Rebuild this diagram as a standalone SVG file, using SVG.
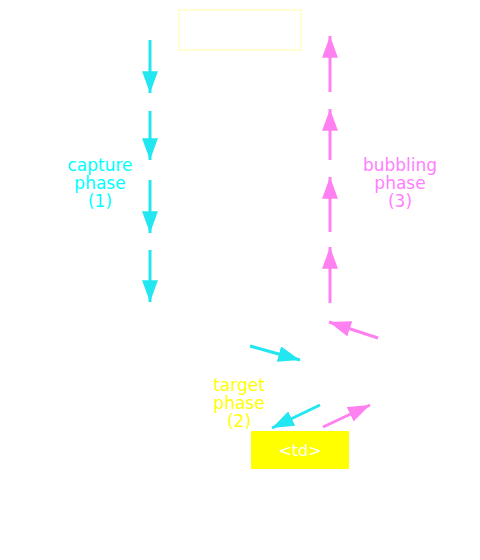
<svg xmlns="http://www.w3.org/2000/svg" width="480" height="560" viewBox="0 0 480 560">
<style>
.lbl{font-family:"DejaVu Sans",sans-serif;font-size:17px;text-anchor:middle}
.td{font-family:"DejaVu Sans",sans-serif;font-size:16px;text-anchor:middle;fill:#fff}
.cap{fill:#00ffff}
.bub{fill:#ff80ff}
.tgt{fill:#ffff00}
.c{stroke:#22e6f0;stroke-width:3;fill:none}
.m{stroke:#ff80f0;stroke-width:3;fill:none}
</style>
<defs>
<marker id="ac" viewBox="0 0 22 16" refX="22" refY="8" markerWidth="7.3" markerHeight="5.3" orient="auto" markerUnits="strokeWidth"><path d="M0,0 L22,8 L0,16 Z" fill="#22e6f0"/></marker>
<marker id="am" viewBox="0 0 22 16" refX="22" refY="8" markerWidth="7.3" markerHeight="5.3" orient="auto" markerUnits="strokeWidth"><path d="M0,0 L22,8 L0,16 Z" fill="#ff80f0"/></marker>
</defs>
<rect width="480" height="560" fill="#fff"/>
<g id="window"><rect x="179" y="10" width="122" height="40" fill="#fff" stroke="#ffffd0" stroke-width="2"/></g>
<g id="td"><rect x="251" y="431" width="98" height="38" fill="#ffff00"/><text x="300" y="456" class="td">&lt;td&gt;</text></g>
<g id="labels">
<text class="lbl cap" x="100" y="171">capture</text>
<text class="lbl cap" x="100" y="189">phase</text>
<text class="lbl cap" x="100" y="207">(1)</text>
<text class="lbl bub" x="400" y="171">bubbling</text>
<text class="lbl bub" x="400" y="189">phase</text>
<text class="lbl bub" x="400" y="207">(3)</text>
<text class="lbl tgt" x="239" y="391">target</text>
<text class="lbl tgt" x="239" y="409">phase</text>
<text class="lbl tgt" x="239" y="427">(2)</text>
</g>
<g id="connectors">
<line class="c" x1="150" y1="40" x2="150" y2="93" marker-end="url(#ac)"/>
<line class="c" x1="150" y1="111" x2="150" y2="160" marker-end="url(#ac)"/>
<line class="c" x1="150" y1="180" x2="150" y2="233" marker-end="url(#ac)"/>
<line class="c" x1="150" y1="250" x2="150" y2="302" marker-end="url(#ac)"/>
<line class="m" x1="330" y1="92" x2="330" y2="36" marker-end="url(#am)"/>
<line class="m" x1="330" y1="160" x2="330" y2="109" marker-end="url(#am)"/>
<line class="m" x1="330" y1="232" x2="330" y2="177" marker-end="url(#am)"/>
<line class="m" x1="330" y1="303" x2="330" y2="247" marker-end="url(#am)"/>
<line class="c" x1="250" y1="346" x2="300" y2="360" marker-end="url(#ac)"/>
<line class="c" x1="320" y1="405" x2="272" y2="428" marker-end="url(#ac)"/>
<line class="m" x1="378" y1="338" x2="329" y2="322" marker-end="url(#am)"/>
<line class="m" x1="323" y1="427" x2="370" y2="405" marker-end="url(#am)"/>
</g>
</svg>
